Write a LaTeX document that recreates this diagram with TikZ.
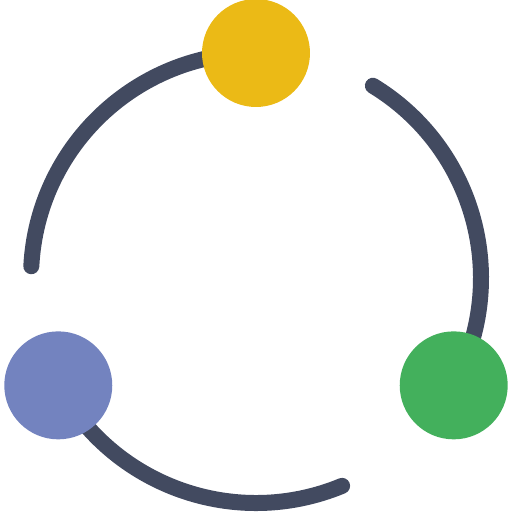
\documentclass[tikz,border=0pt]{standalone}
\usetikzlibrary{positioning}
\definecolor{ringcol}{HTML}{424A60}
\definecolor{sunyellow}{HTML}{EBBA16}
\definecolor{dotblue}{HTML}{7383BF}
\definecolor{dotgreen}{HTML}{43B05C}
\tikzset{
  ring/.style={draw=ringcol, line width=0.32cm, line cap=round},
  dot/.style={circle, minimum size=2.16cm, inner sep=0pt, fill=#1}
}
\begin{document}
\begin{tikzpicture}[x=0.02cm, y=0.02cm]
  \useasboundingbox (0,0) rectangle (512,512);
  \coordinate (hub) at (256,234);
  % arcs of the ring
  \draw[ring] (hub) ++(90:225) coordinate (topend) arc[start angle=90, end angle=177, radius=225] coordinate (leftend);
  \draw[ring] (hub) ++(208.5:225) coordinate (blueend) arc[start angle=208.5, end angle=292.5, radius=225] coordinate (bottomend);
  \draw[ring] (hub) ++(-28.5:225) coordinate (greenend) arc[start angle=-28.5, end angle=58.7, radius=225] coordinate (rightend);
  % dots
  \node[dot=sunyellow] (yellowdot) at (topend) {};
  \node[dot=dotblue] (bluedot) at (blueend) {};
  \node[dot=dotgreen] (greendot) at (greenend) {};
\end{tikzpicture}
\end{document}
